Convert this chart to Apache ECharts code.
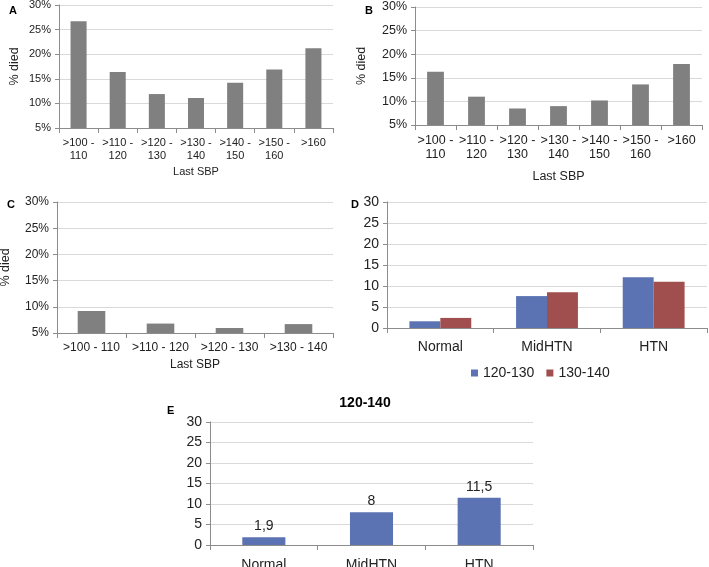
<!DOCTYPE html>
<html>
<head>
<meta charset="utf-8">
<script src="https://cdn.jsdelivr.net/npm/echarts@6/dist/echarts.min.js"></script>
<style>
  html, body { margin: 0; padding: 0; background: #fff; }
  #main { width: 709px; height: 567px; }
</style>
</head>
<body>
<div id="main"></div>
<script>
// data
const sbpCatsAB = ['>100 -\n110', '>110 -\n120', '>120 -\n130', '>130 -\n140', '>140 -\n150', '>150 -\n160', '>160'];
const diedA = [26.7, 16.4, 11.9, 11.1, 14.2, 16.9, 21.2];
const diedB = [16.3, 11.0, 8.5, 9.0, 10.2, 13.6, 17.9];
const sbpCatsC = ['>100 - 110', '>110 - 120', '>120 - 130', '>130 - 140'];
const diedC = [9.2, 6.8, 5.95, 6.7];
const groups = ['Normal', 'MidHTN', 'HTN'];
const d120_130 = [1.6, 7.6, 12.1];
const d130_140 = [2.4, 8.5, 11.0];
const e120_140 = [1.9, 8, 11.5];

const font = 'Arial, "Liberation Sans", sans-serif';
const txt = '#222';
const gray = '#808080';
const blue = '#5b73b3';
const red = '#a14f4e';

function catAxis(grid, data, size, margin, name, gap) {
    return {
        type: 'category', gridIndex: grid, data: data,
        axisLine: { lineStyle: { color: '#8c8c8c' } },
        axisTick: { show: true, alignWithLabel: false, length: 5, lineStyle: { color: '#8c8c8c' } },
        axisLabel: { color: txt, fontSize: size, fontFamily: font, interval: 0, lineHeight: size + 2, margin: margin },
        name: name, nameLocation: 'middle', nameGap: gap,
        nameTextStyle: { color: txt, fontSize: size, fontFamily: font }
    };
}

function valAxis(grid, min, max, pct, size, name, gap) {
    return {
        type: 'value', gridIndex: grid, min: min, max: max, interval: 5,
        axisLine: { show: true, lineStyle: { color: '#8c8c8c' } },
        axisTick: { show: true, length: 4, lineStyle: { color: '#8c8c8c' } },
        splitLine: { lineStyle: { color: '#d9d9d9' } },
        axisLabel: { color: txt, fontSize: size, fontFamily: font, margin: 8, formatter: pct ? '{value}%' : '{value}' },
        name: name, nameLocation: 'middle', nameGap: gap, nameRotate: 90,
        nameTextStyle: { color: txt, fontSize: 12.5, fontFamily: font }
    };
}

const chart = echarts.init(document.getElementById('main'));
chart.setOption({
    backgroundColor: '#fff',
    animation: false,
    title: [
        { text: 'A', left: 4, top: 0, textStyle: { fontSize: 11, fontWeight: 'bold', color: '#000', fontFamily: font } },
        { text: 'B', left: 360, top: 0, textStyle: { fontSize: 11, fontWeight: 'bold', color: '#000', fontFamily: font } },
        { text: 'C', left: 2, top: 194, textStyle: { fontSize: 11, fontWeight: 'bold', color: '#000', fontFamily: font } },
        { text: 'D', left: 346, top: 194, textStyle: { fontSize: 11, fontWeight: 'bold', color: '#000', fontFamily: font } },
        { text: 'E', left: 162, top: 400, textStyle: { fontSize: 11, fontWeight: 'bold', color: '#000', fontFamily: font } },
        { text: '120-140', left: 360, top: 391, textAlign: 'center', textStyle: { fontSize: 14, fontWeight: 'bold', color: '#000', fontFamily: font } }
    ],
    legend: {
        data: ['120-130', '130-140'], left: 466, top: 361,
        icon: 'rect', itemWidth: 7, itemHeight: 7, itemGap: 12,
        textStyle: { color: txt, fontSize: 14, fontFamily: font }
    },
    grid: [
        { left: 59, top: 5, width: 274, height: 123, outerBoundsMode: 'none' },
        { left: 415, top: 7, width: 287, height: 118, outerBoundsMode: 'none' },
        { left: 57, top: 202, width: 276, height: 131, outerBoundsMode: 'none' },
        { left: 387, top: 202, width: 320, height: 126, outerBoundsMode: 'none' },
        { left: 210, top: 422, width: 323, height: 123, outerBoundsMode: 'none' }
    ],
    xAxis: [
        catAxis(0, sbpCatsAB, 11, 8, 'Last SBP', 38),
        catAxis(1, sbpCatsAB, 12.5, 8, 'Last SBP', 45),
        catAxis(2, sbpCatsC, 12, 8, 'Last SBP', 26),
        catAxis(3, groups, 14, 11, '', 0),
        catAxis(4, groups, 14, 12, '', 0)
    ],
    yAxis: [
        valAxis(0, 5, 30, true, 11, '% died', 38),
        valAxis(1, 5, 30, true, 12.5, '% died', 47),
        valAxis(2, 5, 30, true, 12, '% died', 45),
        valAxis(3, 0, 30, false, 14, '', 0),
        valAxis(4, 0, 30, false, 14, '', 0)
    ],
    series: [
        { type: 'bar', xAxisIndex: 0, yAxisIndex: 0, data: diedA, barWidth: '41%', itemStyle: { color: gray } },
        { type: 'bar', xAxisIndex: 1, yAxisIndex: 1, data: diedB, barWidth: '41%', itemStyle: { color: gray } },
        { type: 'bar', xAxisIndex: 2, yAxisIndex: 2, data: diedC, barWidth: '40%', itemStyle: { color: gray } },
        { name: '120-130', type: 'bar', xAxisIndex: 3, yAxisIndex: 3, data: d120_130, barGap: '0%', barCategoryGap: '42%', itemStyle: { color: blue } },
        { name: '130-140', type: 'bar', xAxisIndex: 3, yAxisIndex: 3, data: d130_140, barGap: '0%', barCategoryGap: '42%', itemStyle: { color: red } },
        {
            type: 'bar', xAxisIndex: 4, yAxisIndex: 4, data: e120_140, barWidth: '40%', itemStyle: { color: blue },
            label: {
                show: true, position: 'top', distance: 4, color: txt, fontSize: 14, fontFamily: font,
                formatter: p => String(p.value).replace('.', ',')
            }
        }
    ]
});
</script>
</body>
</html>
